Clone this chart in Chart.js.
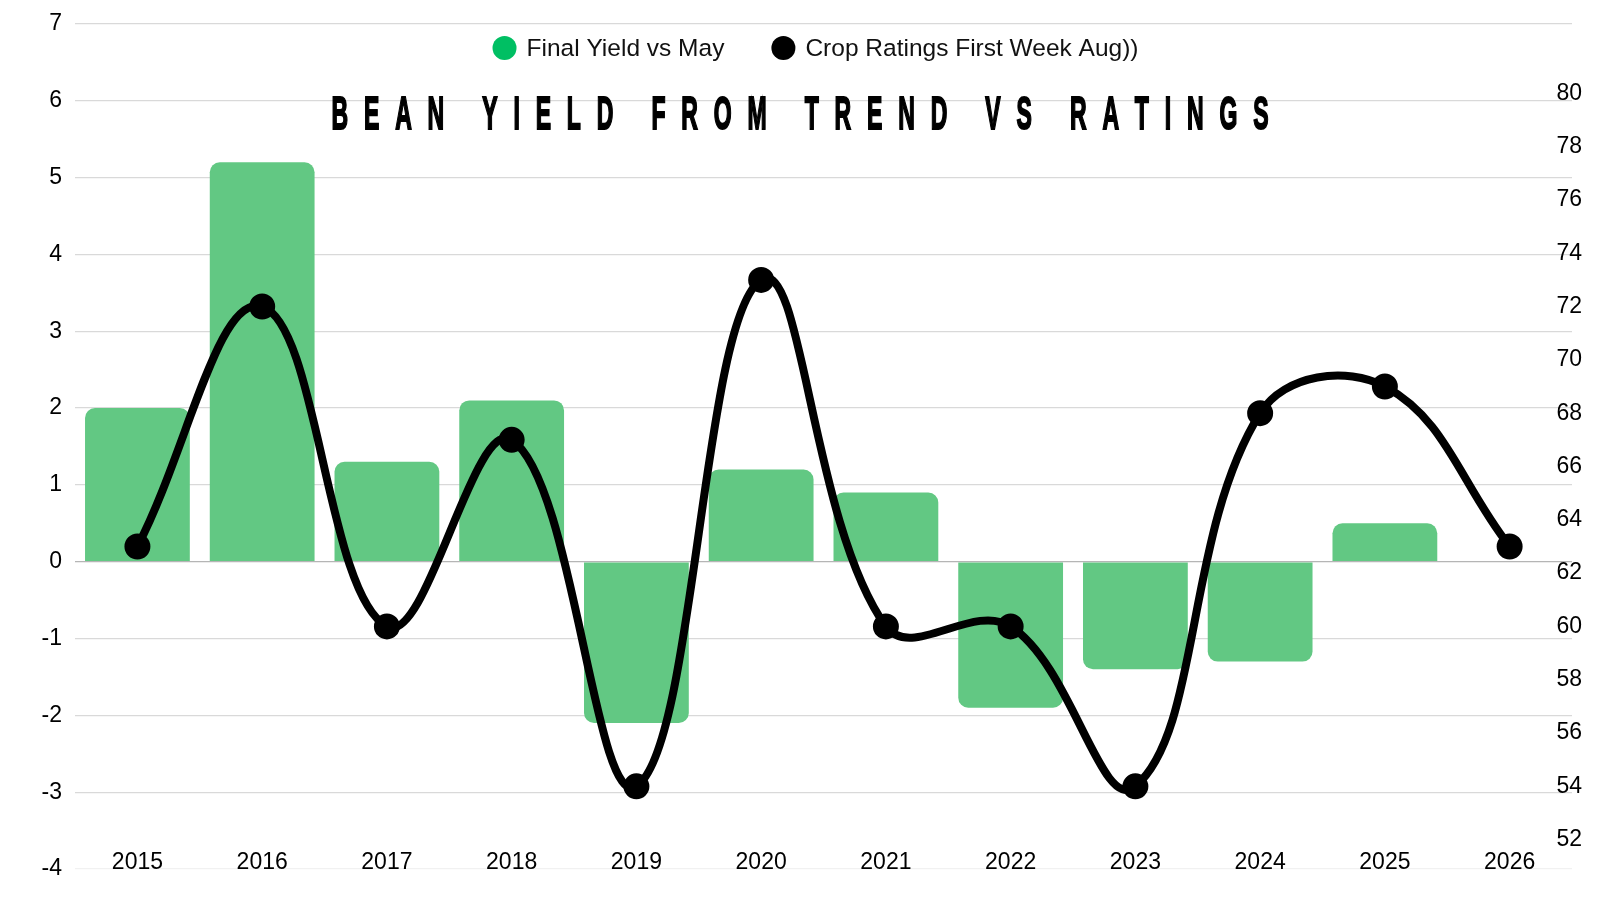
<!DOCTYPE html>
<html>
<head>
<meta charset="utf-8">
<script src="https://cdn.jsdelivr.net/npm/chart.js@4.4.1/dist/chart.umd.min.js"></script>
<style>
  html, body { margin: 0; padding: 0; background: #fff; }
  #wrap { width: 1600px; height: 900px; position: relative; }
</style>
</head>
<body>
<div id="wrap"><canvas id="beans"></canvas></div>
<script>
const years = ["2015", "2016", "2017", "2018", "2019", "2020", "2021", "2022", "2023", "2024", "2025", "2026"];
const yieldVsMay = [2.0, 5.2, 1.3, 2.1, -2.1, 1.2, 0.9, -1.9, -1.4, -1.3, 0.5, null];
const cropRatings = [63, 72, 60, 67, 54, 73, 60, 60, 54, 68, 69, 63];
const rightTicks = [52, 54, 56, 58, 60, 62, 64, 66, 68, 70, 72, 74, 76, 78, 80];
const seriesNames = ["Final Yield vs May", "Crop Ratings First Week Aug))"];
const titleText = "BEAN YIELD FROM TREND VS RATINGS";

const barGreen = "#62c883";
const legendGreen = "#00bf63";
const lineBlack = "#000000";
const tickFont = { family: "'Liberation Sans', Arial, sans-serif", size: 23 };

// legend + spaced-out title, both sit on top of the plot area
const overlay = {
  id: "overlay",
  afterDraw(chart) {
    const ctx = chart.ctx;
    const area = chart.chartArea;
    ctx.save();

    ctx.font = "24.5px 'Liberation Sans', Arial, sans-serif";
    ctx.textBaseline = "middle";
    ctx.textAlign = "left";
    const r = 12, gapText = 10, gapItem = 47;
    const items = [
      { label: seriesNames[0], color: legendGreen },
      { label: seriesNames[1], color: lineBlack }
    ];
    let total = 0;
    items.forEach((it, i) => {
      it.w = ctx.measureText(it.label).width;
      total += 2 * r + gapText + it.w + (i < items.length - 1 ? gapItem : 0);
    });
    let x = (area.left + area.right) / 2 - 8 - total / 2;
    const y = 48;
    items.forEach(it => {
      ctx.fillStyle = it.color;
      ctx.beginPath();
      ctx.arc(x + r, y, r, 0, Math.PI * 2);
      ctx.fill();
      ctx.fillStyle = "#111";
      ctx.fillText(it.label, x + 2 * r + gapText, y + 1);
      x += 2 * r + gapText + it.w + gapItem;
    });

    ctx.font = "bold 46px 'Liberation Sans', Arial, sans-serif";
    ctx.textBaseline = "alphabetic";
    ctx.fillStyle = "#000";
    ctx.strokeStyle = "#000";
    ctx.lineWidth = 2;
    const sx = 0.5;
    const chars = [...titleText];
    const widths = chars.map(c => ctx.measureText(c).width * sx);
    const sum = widths.reduce((a, b) => a + b, 0);
    const target = 937;
    const sp = (target - sum) / (chars.length - 1);
    let tx = 800 - target / 2;
    chars.forEach((c, i) => {
      ctx.save();
      ctx.translate(tx, 129);
      ctx.scale(sx, 1);
      ctx.fillText(c, 0, 0);
      ctx.strokeText(c, 0, 0);
      ctx.restore();
      tx += widths[i] + sp;
    });
    ctx.restore();
  }
};

new Chart(document.getElementById("beans"), {
  type: "bar",
  data: {
    labels: years,
    datasets: [
      {
        type: "bar",
        label: seriesNames[0],
        data: yieldVsMay,
        backgroundColor: barGreen,
        borderRadius: 10,
        barPercentage: 0.84,
        categoryPercentage: 1,
        yAxisID: "y",
        order: 1
      },
      {
        type: "line",
        label: seriesNames[1],
        data: cropRatings,
        borderColor: lineBlack,
        backgroundColor: lineBlack,
        borderWidth: 8,
        tension: 0.4,
        pointRadius: 12,
        pointBorderWidth: 2,
        pointBackgroundColor: lineBlack,
        pointBorderColor: lineBlack,
        fill: false,
        yAxisID: "yR",
        order: 0
      }
    ]
  },
  options: {
    responsive: true,
    maintainAspectRatio: false,
    animation: false,
    layout: { padding: { left: 38.6, right: 8, top: 24, bottom: 31 } },
    plugins: {
      legend: { display: false },
      title: { display: false },
      tooltip: { enabled: false }
    },
    scales: {
      x: {
        grid: { display: false, drawTicks: false },
        border: { display: false },
        ticks: { color: "#000", font: tickFont, mirror: true, padding: -7.2, maxRotation: 0 }
      },
      y: {
        position: "left",
        min: -4,
        max: 7,
        border: { display: false },
        grid: {
          drawTicks: true,
          tickLength: 10,
          tickColor: "transparent",
          lineWidth: 1.3,
          color: c => c.tick.value === 0 ? "#b5b5b5" : (c.tick.value === -4 ? "#f1f1f1" : "#d9d9d9")
        },
        ticks: { stepSize: 1, color: "#000", font: tickFont, padding: 3 }
      },
      yR: {
        position: "right",
        min: 50.9,
        max: 82.6,
        border: { display: false },
        grid: { display: false, drawTicks: false },
        afterBuildTicks: s => { s.ticks = rightTicks.map(v => ({ value: v })); },
        ticks: { color: "#000", font: tickFont, mirror: true, crossAlign: "near", padding: 10 }
      }
    }
  },
  plugins: [overlay]
});
</script>
</body>
</html>
